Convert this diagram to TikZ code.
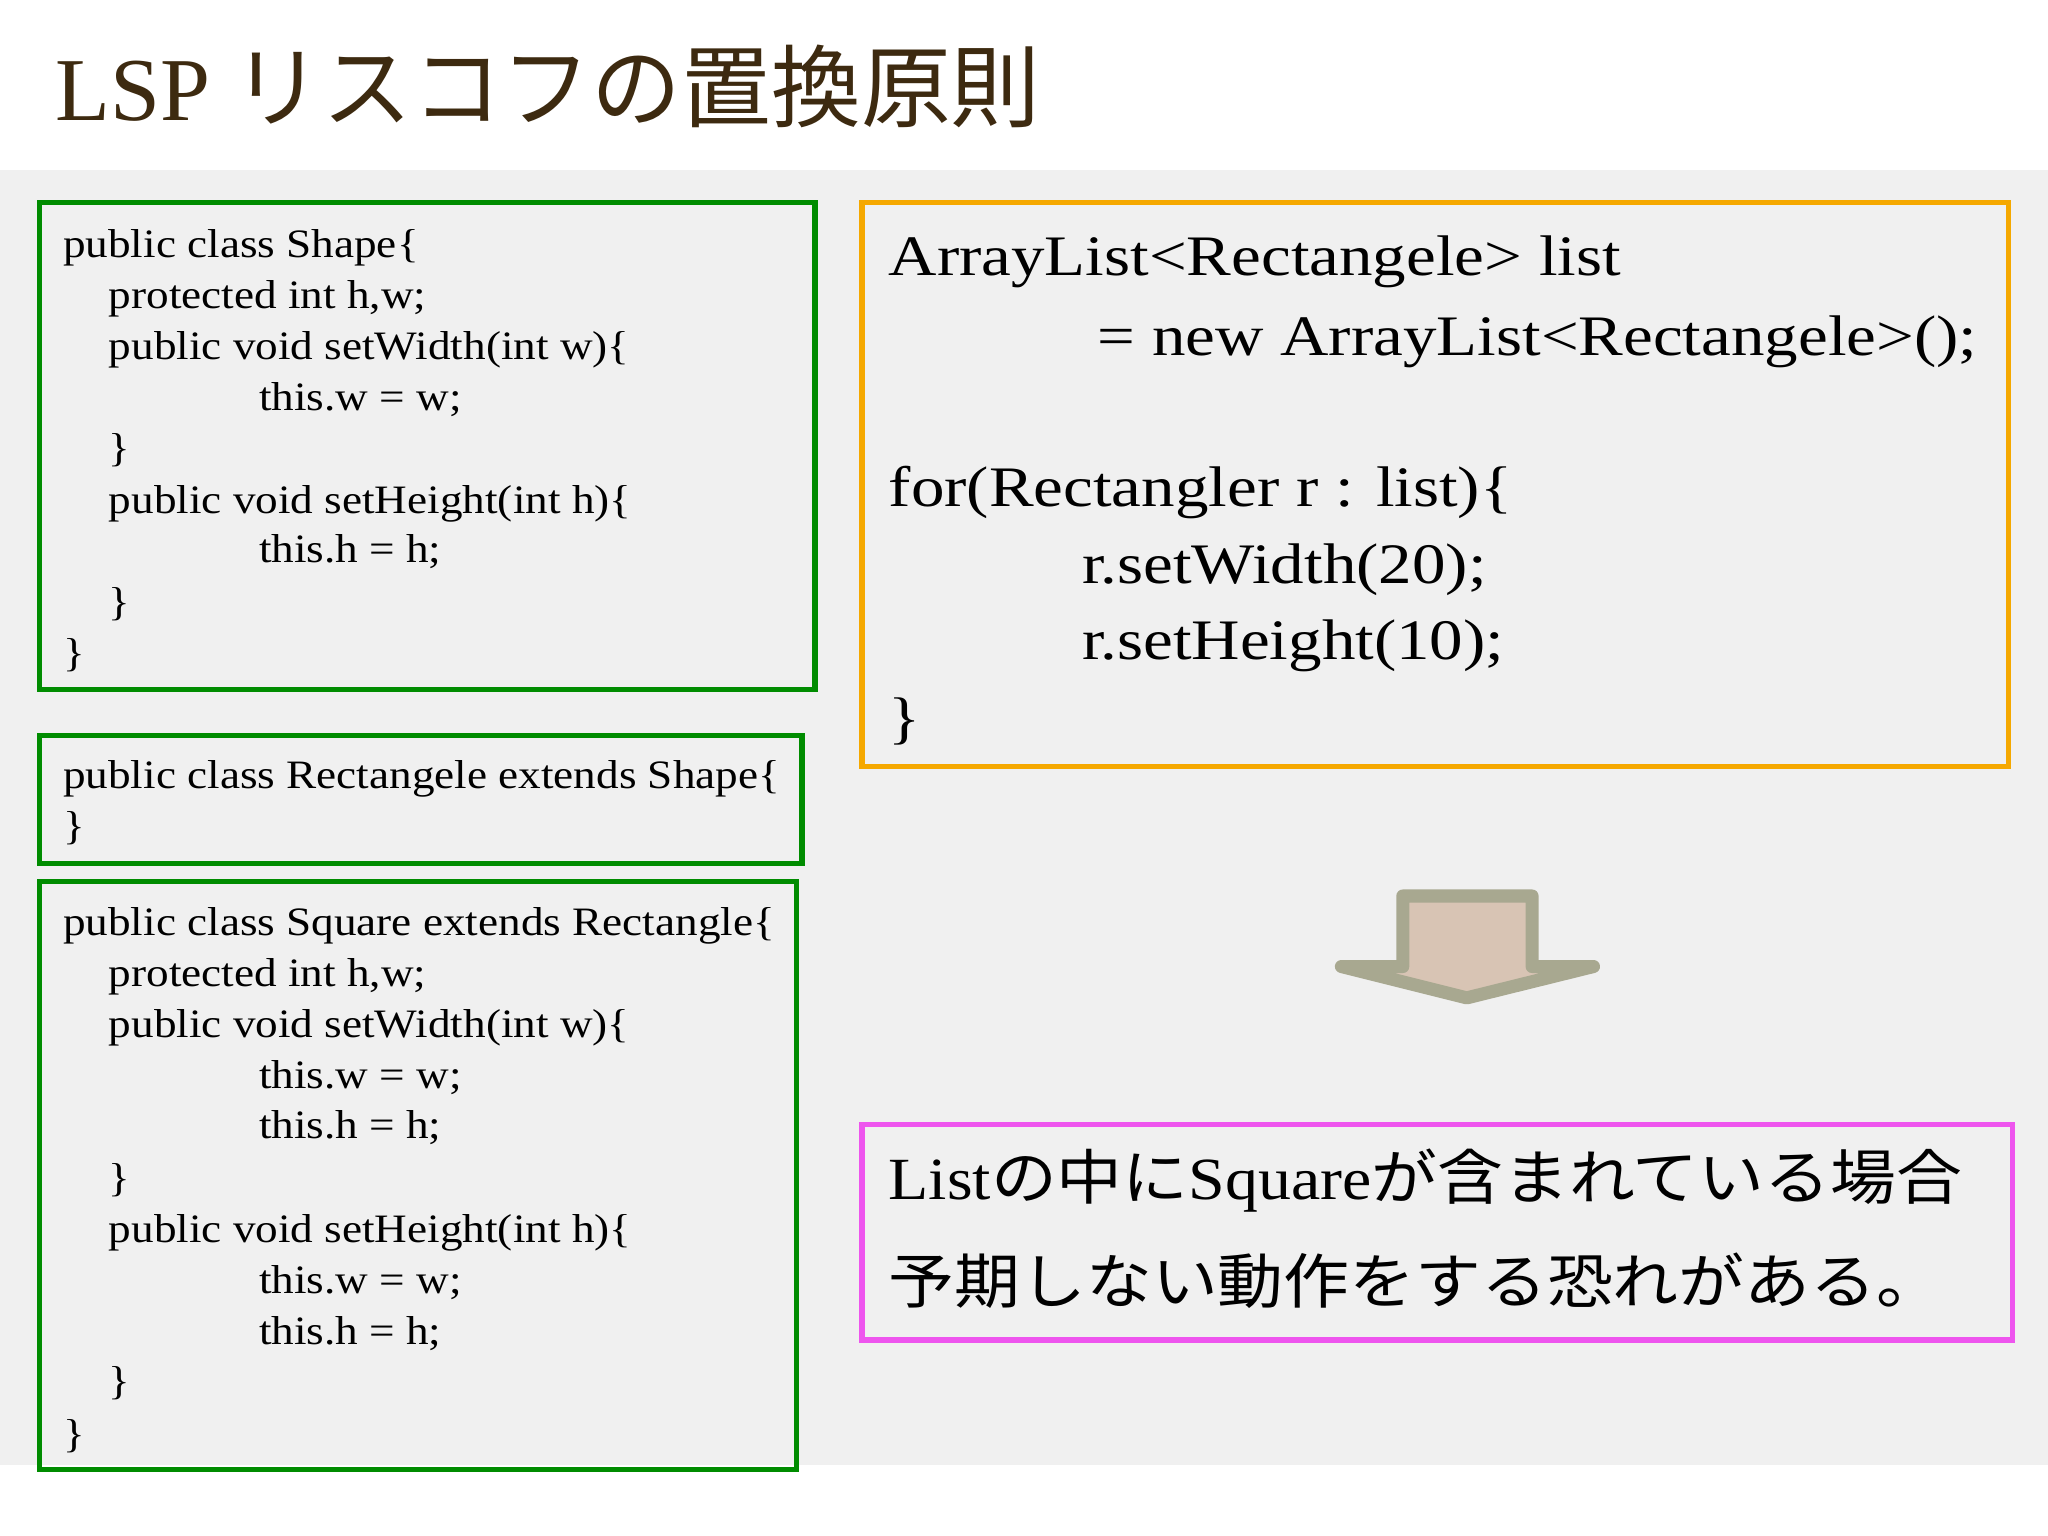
\documentclass[tikz,border=0pt]{standalone}
\usepackage{fontspec}
\setmainfont{Liberation Serif}
\newfontfamily\jpf{Noto Sans CJK JP}
\newfontfamily\codef[FakeStretch=1.12]{Liberation Serif}
\newfontfamily\bigf[FakeStretch=1.17]{Liberation Serif}
\newfontfamily\magf[FakeStretch=1.1]{Liberation Serif}
\newfontfamily\jpmf[FakeStretch=1.1]{Noto Sans CJK JP}
\newcommand{\jp}[1]{{\jpf #1}}
\newcommand{\jpm}[1]{{\jpmf #1}}
\begin{document}
\begin{tikzpicture}[x=0.5bp,y=-0.5bp,
  code/.style={anchor=base west,inner sep=0pt,font=\codef\fontsize{15.5}{18}\selectfont},
  big/.style={anchor=base west,inner sep=0pt,font=\bigf\fontsize{22}{26}\selectfont},
  mag/.style={anchor=base west,inner sep=0pt,font=\magf\fontsize{23}{28}\selectfont},
  gbox/.style={draw=green!55!black,line width=2bp},
  obox/.style={draw={rgb,255:red,245;green,168;blue,0},line width=2bp},
  mbox/.style={draw={rgb,255:red,238;green,85;blue,238},line width=2bp}]
\useasboundingbox (0,0) rectangle (1568,1176);
\fill[white] (0,0) rectangle (1568,1176);
\fill[gray!12] (0,130) rectangle (1568,1122);
\node[anchor=base west,inner sep=0pt,text={rgb,255:red,61;green,42;blue,16},font=\fontsize{34.5}{40}\selectfont] (title) at (42,92) {LSP \jp{リスコフの置換原則}};
\draw[gbox] (30,155) rectangle (624,528);
\draw[gbox] (30,563) rectangle (614,661);
\draw[gbox] (30,675) rectangle (610,1125);
\draw[obox] (660,155) rectangle (1538,587);
\draw[mbox] (660,861) rectangle (1541,1026);
% box1
\node[code] (a1) at (48,197) {public class Shape\{};
\node[code] (a2) at (83,236) {protected int h,w;};
\node[code] (a3) at (83,275) {public void setWidth(int w)\{};
\node[code] (a4) at (198,314) {this.w = w;};
\node[code] (a5) at (83,353) {\}};
\node[code] (a6) at (83,393) {public void setHeight(int h)\{};
\node[code] (a7) at (198,431) {this.h = h;};
\node[code] (a8) at (83,471) {\}};
\node[code] (a9) at (48,510) {\}};
% box2
\node[code] (b1) at (48,604) {public class Rectangele extends Shape\{};
\node[code] (b2) at (48,643) {\}};
% box3
\node[code] (c1) at (48,716) {public class Square extends Rectangle\{};
\node[code] (c2) at (83,755) {protected int h,w;};
\node[code] (c3) at (83,794) {public void setWidth(int w)\{};
\node[code] (c4) at (198,833) {this.w = w;};
\node[code] (c5) at (198,872) {this.h = h;};
\node[code] (c6) at (83,912) {\}};
\node[code] (c7) at (83,951) {public void setHeight(int h)\{};
\node[code] (c8) at (198,990) {this.w = w;};
\node[code] (c9) at (198,1029) {this.h = h;};
\node[code] (c10) at (83,1068) {\}};
\node[code] (c11) at (48,1108) {\}};
% right box
\node[big] (d1) at (680,211) {ArrayList<Rectangele> list};
\node[big] (d2) at (840,272) {= new ArrayList<Rectangele>();};
\node[big] (d3) at (680,388) {for(Rectangler r : list)\{};
\node[big] (d4) at (828,447) {r.setWidth(20);};
\node[big] (d5) at (828,505) {r.setHeight(10);};
\node[big] (d6) at (680,565) {\}};
% arrow
\draw[line width=5bp,draw={rgb,255:red,168;green,168;blue,144},fill={rgb,255:red,216;green,196;blue,180},line join=round]
 (1074,686) -- (1173,686) -- (1173,740) -- (1220,740) -- (1123,764) -- (1027,740) -- (1074,740) -- cycle;
% magenta
\node[mag] (e1) at (680,918) {List\jpm{の中に}Square\jpm{が含まれている場合}};
\node[mag] (e2) at (680,998) {\jpm{予期しない動作をする恐れがある。}};
\end{tikzpicture}
\end{document}
